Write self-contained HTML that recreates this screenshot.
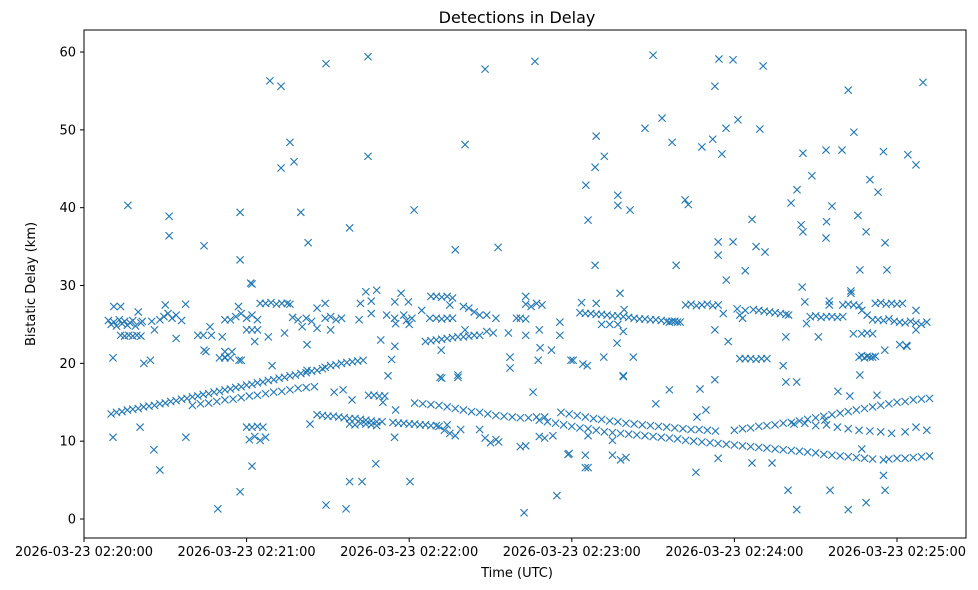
<!DOCTYPE html>
<html><head><meta charset="utf-8"><style>
html,body{margin:0;padding:0;background:#fff;}
svg{display:block;font-family:"DejaVu Sans","Liberation Sans",sans-serif;}
</style></head><body>
<svg id="chart" width="978" height="590" viewBox="0 0 978 590">
<rect x="0" y="0" width="978" height="590" fill="#fff"/>
<text x="517" y="23" text-anchor="middle" font-size="16">Detections in Delay</text>
<g id="marks"></g>
<rect x="84" y="30" width="882" height="508" fill="none" stroke="#000" stroke-width="1"/>
<g id="xaxis"></g>
<g id="yaxis"></g>
<text x="517" y="577" text-anchor="middle" font-size="13">Time (UTC)</text>
<text transform="translate(35,284) rotate(-90)" text-anchor="middle" font-size="13">Bistatic Delay (km)</text>
</svg>
<script>
// seconds after 02:20:00 and delay in km
const xTickSeconds = [0, 60, 120, 180, 240, 300];
const xTickLabels = ["2026-03-23 02:20:00","2026-03-23 02:21:00","2026-03-23 02:22:00","2026-03-23 02:23:00","2026-03-23 02:24:00","2026-03-23 02:25:00"];
const yTicks = [0, 10, 20, 30, 40, 50, 60];

const risingA_t = [10,12,14,16,18,20,22,24,26,28,30,32,34,36,38,40,42,44,46,48,50,52,54,56,58,60,62,64,66,68,70,72,74,76,78,80,82,84,86,88,89,91,93,95,97,99,101,103];
const risingA_km = [13.5,13.7,13.8,14.0,14.1,14.2,14.4,14.5,14.6,14.8,14.9,15.1,15.2,15.4,15.5,15.7,15.8,16.0,16.1,16.3,16.4,16.6,16.7,16.9,17.0,17.2,17.3,17.5,17.6,17.8,17.9,18.1,18.2,18.4,18.5,18.7,18.8,19.0,19.1,19.3,19.5,19.7,19.8,20.0,20.1,20.2,20.3,20.4];
const risingB_t = [40,43,46,49,52,55,58,61,64,67,70,73,76,79,82,85];
const risingB_km = [14.6,14.8,14.9,15.1,15.3,15.4,15.6,15.8,15.9,16.1,16.3,16.4,16.6,16.8,16.9,17.0];
const segD_t = [86,88,90,92,94,96,98,100,102,104,106,108,110,98,100,102,104,106,108,105,107,109,111];
const segD_km = [13.4,13.3,13.2,13.2,13.1,13.0,12.9,12.9,12.8,12.7,12.6,12.5,12.5,12.2,12.1,12.3,12.2,12.1,12.0,15.9,15.9,15.8,15.8];
const lineC_t = [122,125,128,131,134,137,140,143,146,149,152,155,158,161,164,167,170];
const lineC_km = [14.9,14.8,14.7,14.6,14.4,14.2,14.0,13.8,13.7,13.5,13.3,13.2,13.1,13.0,13.0,13.1,13.1];
const lineE_t = [114,116,118,120,122,124,126,128,130];
const lineE_km = [12.4,12.3,12.3,12.2,12.2,12.1,12.1,12.0,12.0];
const lineF_t = [176,179,182,185,188,191,194,197,200,203,206,209,212,215,218,221,224,227,230,233,262,266,270,274,278,282,286,290,294,298,303,307,311];
const lineF_km = [13.7,13.5,13.3,13.1,12.9,12.8,12.6,12.5,12.3,12.2,12.1,12.0,11.9,11.8,11.7,11.6,11.5,11.5,11.4,11.3,12.2,12.3,12.0,12.1,11.8,11.6,11.4,11.3,11.2,11.0,11.2,11.8,11.4];
const lineH_t = [168,171,174,177,180,183,186,189,192,195,198,201,204,207,210,213,216,219,222,225,228,231,234,237,240,243,246,249,252,255,258,261,264,267,270,273,276,279,282,285,288,291,297,300,303,306,309,312];
const lineH_km = [12.7,12.5,12.3,12.1,11.9,11.7,11.6,11.4,11.2,11.1,11.0,10.9,10.8,10.7,10.6,10.5,10.4,10.3,10.1,10.0,9.9,9.8,9.7,9.6,9.5,9.4,9.3,9.2,9.1,9.0,8.9,8.8,8.7,8.6,8.5,8.3,8.2,8.1,8.0,7.9,7.8,7.7,7.7,7.8,7.8,7.9,8.0,8.1];
const risingJ_t = [240,243,246,249,252,255,258,261,264,267,270,273,276,279,282,285,288,291,294,297,300,303,306,309,312];
const risingJ_km = [11.4,11.6,11.7,11.9,12.0,12.1,12.3,12.4,12.6,12.8,13.0,13.2,13.4,13.6,13.8,14.0,14.2,14.4,14.6,14.8,15.0,15.1,15.3,15.4,15.5];
const topBand_t = [11,13.5,9,10,11,12,13,14,15,16,17,18,19,21,13.5,15,16.5,18,19.5,21,20,21.5,25,26,28,29.5,31,32.5,34,36,30,37.5,34,42,44,47,51,45,52,50,52,54,58,52,54,56,58,60,62,64,57,61.5,60,62,64,63,68,65,67,69,71,73,75,76,74,77,79,80.5,82,84,86,86,89,89,91,93,95,91,102,104,108,106,106,101.5,109.5,111.7,114.7,117,119.7,115,118,119,120,121,114.7,113.5,124.6,127.6,130,132,134,136,128,130,132,134,136,135,140,142,144,146,148.6,152,126,128,130,132,134,136,138,140,142,144,146,140.6,148.6,151,156.6,159.6,161,163,163,163,165,167,169,168,163,175.6,175.6,172.5,167.6,157.2,132,138,183.6,189,183,185,187,189,191,193,195,197,199,201,203,205,207,209,211,213,215,217,219,197.8,191,194,197,199,180.5,185.7,191.8,202.7,199,216,218,220,222,224,226,228,230,232,234,237,235.9,241,242,243,244,247,249,251,253,255,257,259,260,232.8,237.7,242,244,246,248,250,252,258,263,259,265,266,266.6,268,270,272,274,276,278,280,271,275,275,283,283,280,282,284,286,283.9,287,289,291,286,287,288,289,290,291,292,295.5,287,289,291,293,295,297,299,301,303,305,307,309,311,292,294,296,298,300,302,303.5,307,307];
const topBand_km = [27.3,27.3,25.5,25.0,25.3,24.8,25.6,25.1,25.4,24.9,25.2,25.5,24.8,25.2,23.6,23.5,23.6,23.5,23.6,23.5,26.6,25.4,25.4,24.3,25.6,26.0,26.4,25.8,26.2,25.5,27.5,27.6,23.2,23.6,23.6,23.6,23.4,21.5,21.5,20.7,20.7,20.7,20.4,25.6,25.6,26.0,26.4,25.8,26.2,25.6,27.3,30.3,24.3,24.3,24.3,22.8,23.4,27.7,27.7,27.8,27.6,27.7,27.7,27.6,23.9,25.9,25.6,24.7,25.8,25.4,24.5,27.1,27.7,25.8,26.0,25.6,25.8,24.3,27.7,29.2,29.4,28.0,26.4,25.6,23.0,26.2,27.9,29.0,27.9,25.1,26.2,25.5,25.0,25.8,22.2,20.5,26.8,25.8,25.8,25.7,25.8,25.8,28.6,28.6,28.5,28.6,28.4,27.5,27.3,27.1,26.6,26.2,26.2,25.8,22.8,22.9,23.0,23.1,23.2,23.3,23.4,23.4,23.5,23.6,23.6,24.3,24.1,23.9,23.9,25.8,25.8,25.7,28.6,27.6,27.3,27.7,27.5,24.3,23.6,25.3,23.6,21.7,20.4,19.4,18.1,18.2,27.8,27.7,26.5,26.4,26.4,26.3,26.3,26.2,26.1,26.1,26.0,25.9,25.8,25.7,25.7,25.6,25.6,25.5,25.4,25.4,25.3,29.0,25.0,25.0,25.0,24.1,20.4,19.7,20.8,20.8,18.3,25.3,25.4,25.3,27.5,27.6,27.4,27.5,27.6,27.4,27.5,30.7,26.4,27.0,26.2,25.8,26.8,26.9,26.8,26.7,26.6,26.5,26.4,26.3,26.2,24.3,22.8,20.6,20.6,20.6,20.5,20.6,20.6,19.7,17.6,23.4,29.8,27.9,25.1,26.0,26.1,25.9,26.0,26.0,25.9,26.0,23.4,28.0,27.5,29.0,29.3,27.5,27.6,27.5,27.4,23.8,23.8,23.9,23.8,20.8,21.0,20.7,20.9,20.8,20.8,20.9,21.7,26.8,26.2,25.6,25.6,25.5,25.7,25.4,25.3,25.2,25.4,25.2,25.0,25.3,27.7,27.8,27.6,27.7,27.6,27.7,22.3,26.8,24.3];
const outlier_t = [16.2,31.4,31.4,44.3,57.6,57.6,62,68.6,72.7,76,77.5,72.7,80,82.7,89.3,104.8,104.8,98,121.8,140.6,137,148,152.8,166.4,49.4,57.6,62,28,25.8,89.3,96.7,98,102.6,107.7,120.3,162.4,174.5,178.6,186,186,185.2,186,188.6,189,192,188.6,197,197,201.5,207,210,213.3,218.5,221.8,223,217,228,232.8,234.3,235.4,232,234,234,239.5,241.3,236.9,239.5,244,246.5,249.4,248,250.6,251.3,260.9,263.1,264.6,265.3,265.3,268.6,273.8,276,273.8,274,279.7,282,284.1,285.6,286.3,288.6,290,293,295,295.6,296.3,304,307,309.6,303.7,263,282,288.6,295.6,275.3,259.8,253.9,246.5,225.8,234,287,295,295];
const outlier_km = [40.3,38.9,36.4,35.1,39.4,33.3,30.2,56.3,55.6,48.4,45.9,45.1,39.4,35.5,58.5,59.4,46.6,37.4,39.7,48.1,34.6,57.8,34.9,58.8,1.3,3.5,6.8,6.3,8.9,1.8,1.3,4.8,4.8,7.1,4.8,0.8,3.0,8.3,10.7,6.6,42.9,38.4,32.6,49.2,46.6,45.2,41.6,40.3,39.7,50.2,59.6,51.5,32.6,41.0,40.4,48.4,47.8,55.6,59.1,46.9,48.8,35.6,33.9,59.0,51.3,50.2,35.6,31.9,38.5,50.1,35.0,58.2,34.3,40.6,42.3,37.8,36.9,47.0,44.1,47.4,40.2,36.1,38.2,47.4,55.1,49.7,39.0,32.0,36.9,43.6,42.0,47.2,35.5,32.0,46.8,45.5,56.1,22.2,1.2,1.2,2.1,3.7,3.7,3.7,7.2,7.2,6.0,7.8,9.0,5.6,7.6];
const scatter_t = [10.7,10.7,20.7,22.1,24.5,37.6,44.3,46.5,52,54.6,57.2,69.4,82.3,82.3,83.4,92.3,95.6,98.9,110.3,115,114.6,112.2,114.6,131.4,138,131.8,134,157.2,168.3,179.7,184.1,196.7,199,199.3,227.3,226.2,229.5,232.8,259,278.2,282.6,292.6,286.3,301,273.4,165.7,60,62,64,66,61,63,65,67,131,133,135,137,139,146,148,150,152,153,161,163,168,170,173,179,185,185,195,198,200,195,211,216];
const scatter_km = [10.5,20.7,11.8,20.0,20.4,10.5,21.7,24.7,20.8,21.5,20.4,19.7,22.4,19.1,12.2,16.3,16.6,15.3,15.0,14.0,10.5,18.4,25.8,18.2,18.5,21.7,12.1,20.8,22.0,20.4,19.9,22.6,18.4,26.9,16.7,13.1,14.0,17.9,17.6,16.4,15.8,15.9,18.5,22.4,12.7,16.3,11.8,11.8,11.9,11.8,10.2,10.6,10.1,10.5,11.9,11.4,11.0,10.7,11.5,11.5,10.4,9.8,10.2,9.9,9.3,9.4,10.6,10.4,10.7,8.4,8.2,6.6,8.2,7.6,7.9,10.1,14.8,16.6];

const NS = "http://www.w3.org/2000/svg";
function xScale(t){ return 84 + t * 162.6 / 60; }
function yScale(km){ return 519 - km * 7.783; }

const marks = document.getElementById('marks');
function drawSeries(ts, kms, name){
  const g = document.createElementNS(NS,'g');
  
  
  for(let i=0;i<ts.length;i++){
    const cx = xScale(ts[i]), cy = yScale(kms[i]), r = 3.6;
    const p = document.createElementNS(NS,'path');
    p.setAttribute('d', `M${cx-r},${cy-r}L${cx+r},${cy+r}M${cx-r},${cy+r}L${cx+r},${cy-r}`);
    p.setAttribute('stroke', '#1f77b4');
    p.setAttribute('stroke-width', '1.1');
    p.setAttribute('fill', 'none');
    
    
    g.appendChild(p);
  }
  marks.appendChild(g);
}
drawSeries(topBand_t, topBand_km, 'upper-band-detections');
drawSeries(outlier_t, outlier_km, 'outlier-detections');
drawSeries(scatter_t, scatter_km, 'scatter-detections');
drawSeries(risingA_t, risingA_km, 'rising-track-a');
drawSeries(risingB_t, risingB_km, 'rising-track-b');
drawSeries(segD_t, segD_km, 'short-track-d');
drawSeries(lineC_t, lineC_km, 'falling-track-c');
drawSeries(lineE_t, lineE_km, 'falling-track-e');
drawSeries(lineF_t, lineF_km, 'falling-track-f');
drawSeries(lineH_t, lineH_km, 'falling-track-h');
drawSeries(risingJ_t, risingJ_km, 'rising-track-j');

const xaxis = document.getElementById('xaxis');
for(let i=0;i<xTickSeconds.length;i++){
  const x = xScale(xTickSeconds[i]);
  const l = document.createElementNS(NS,'line');
  l.setAttribute('x1',x); l.setAttribute('x2',x); l.setAttribute('y1',538); l.setAttribute('y2',542);
  l.setAttribute('stroke','#000');
  
  
  xaxis.appendChild(l);
  const t = document.createElementNS(NS,'text');
  t.setAttribute('x',x); t.setAttribute('y',556); t.setAttribute('text-anchor','middle'); t.setAttribute('font-size','13');
  t.textContent = xTickLabels[i];
  
  
  xaxis.appendChild(t);
}
const yaxis = document.getElementById('yaxis');
for(let i=0;i<yTicks.length;i++){
  const y = yScale(yTicks[i]);
  const l = document.createElementNS(NS,'line');
  l.setAttribute('x1',80); l.setAttribute('x2',84); l.setAttribute('y1',y); l.setAttribute('y2',y);
  l.setAttribute('stroke','#000');
  
  
  yaxis.appendChild(l);
  const t = document.createElementNS(NS,'text');
  t.setAttribute('x',76); t.setAttribute('y',y+4.5); t.setAttribute('text-anchor','end'); t.setAttribute('font-size','13');
  t.textContent = yTicks[i];
  
  
  yaxis.appendChild(t);
}
</script>
</body></html>
